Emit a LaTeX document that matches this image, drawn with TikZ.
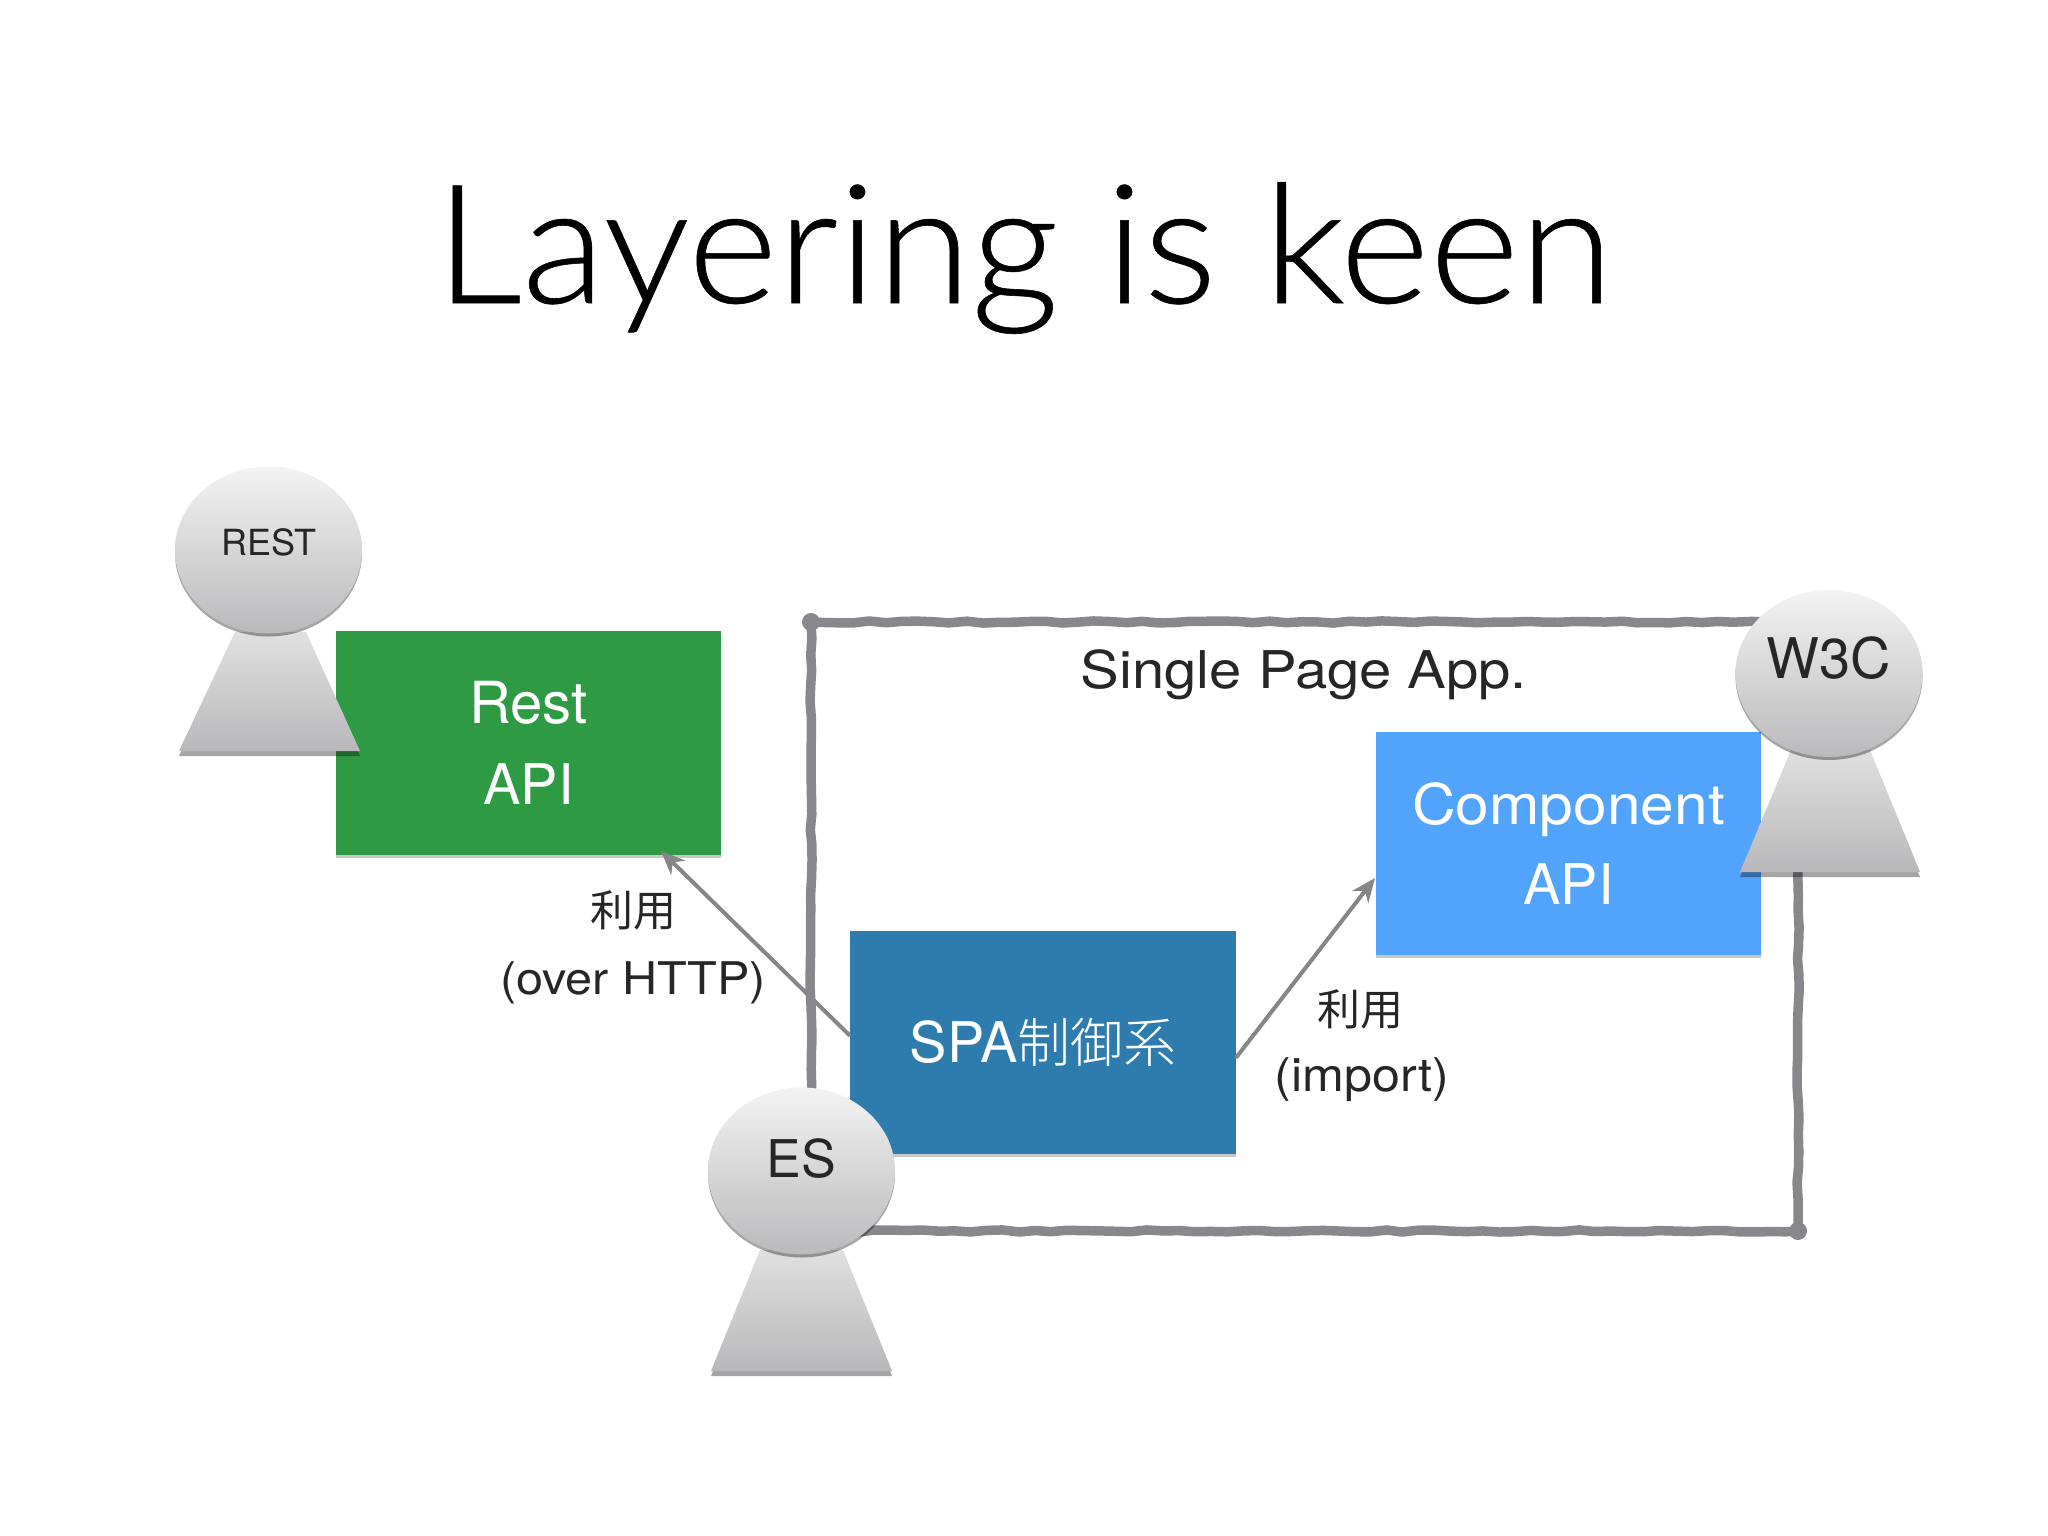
\documentclass[tikz,border=0pt]{standalone}
\usepackage{fontspec}
\setmainfont{TeX Gyre Heros}
\newfontfamily\titlefont{Lato}[UprightFont=* Light,FakeStretch=1.035,FakeBold=0.35]
\newfontfamily\widefont{TeX Gyre Heros}[FakeStretch=1.08]
\newfontfamily\widerfont{TeX Gyre Heros}[FakeStretch=1.115]
\newfontfamily\cjk{Noto Sans CJK JP}
\newfontfamily\cjklight{Noto Sans CJK JP}[UprightFont=* Light]
\usetikzlibrary{shapes.geometric,shadows,arrows.meta,decorations.pathmorphing}
\definecolor{framegray}{HTML}{88888C}
\definecolor{linkgray}{HTML}{85858A}
\definecolor{inkdark}{HTML}{262626}
\definecolor{restgreen}{HTML}{2F9A44}
\definecolor{spablue}{HTML}{2E7CAE}
\definecolor{compblue}{HTML}{52A3FB}
\definecolor{HeadTop}{HTML}{F3F3F3}
\definecolor{HeadBot}{HTML}{BABABC}
\definecolor{BodyTop}{HTML}{E0E0E0}
\definecolor{BodyBot}{HTML}{B8B8BA}
\newcommand{\fs}[2]{\fontsize{#1}{#2}\selectfont}
\newcommand{\liftby}[2]{\smash{\raisebox{#1}{#2}}}
\tikzset{
  apibox/.style={rectangle,inner sep=0pt,outer sep=0pt,text=white,align=center,
    font=\fs{56}{80.5},drop shadow={shadow xshift=0pt,shadow yshift=-3pt,fill=black,opacity=.22}},
  head/.style={ellipse,inner sep=0pt,outer sep=0pt,minimum width=187pt,minimum height=167pt,
    top color=HeadTop,bottom color=HeadBot,text=inkdark,
    drop shadow={shadow xshift=0pt,shadow yshift=-3pt,fill=black,opacity=.35}},
  figbody/.style={top color=BodyTop,bottom color=BodyBot,
    drop shadow={shadow xshift=0pt,shadow yshift=-5pt,fill=black,opacity=.35},draw=none},
  link/.style={draw=linkgray,line width=4pt,-{Stealth[length=24pt,width=20pt]}},
  note/.style={inner sep=0pt,outer sep=0pt,text=inkdark,anchor=base},
  spaframe/.style={rectangle,inner sep=0pt,outer sep=0pt,draw=framegray,line width=9.5pt,line join=round,
    decorate,decoration={random steps,segment length=16pt,amplitude=1.1pt}},
}
\begin{document}
\begin{tikzpicture}[x=1pt,y=-1pt]
\useasboundingbox (0,0) rectangle (2048,1536);
\fill[white] (0,0) rectangle (2048,1536);
\pgfmathsetseed{42}
% title
\node[note,text=black,font=\titlefont\fs{166}{166}] (title) at (1024,303) {Layering is keen};
% boxes
\node[apibox,fill=restgreen,minimum width=385pt,minimum height=224pt] (rest) at (528.5,743) {{\fs{58}{80.5}Rest}\\API};
\node[apibox,fill=spablue,minimum width=386pt,minimum height=223pt] (spa) at (1043,1042.75) {SPA{\cjklight\fs{53}{53}制御系}};
\node[apibox,fill=compblue,minimum width=385pt,minimum height=223pt] (comp) at (1568.5,843.5) {{\widefont Component}\\API};
% arrows
\draw[link] ([yshift=7pt]spa.west) -- ([xshift=132.5pt,yshift=4pt]rest.south);
\draw[link] ([yshift=-15pt]spa.east) -- ([xshift=-1pt,yshift=-34.5pt]comp.west);
% frame
\node[spaframe,minimum width=987pt,minimum height=609pt] (frame) at (1304.5,926.5) {};
\fill[framegray] (frame.north west) circle (9pt);
\fill[framegray] (frame.south east) circle (9pt);
% labels
\node[note,font=\widerfont\fs{52}{52}] (spatitle) at (1304,688) {Single Page App.};
\node[note,font=\cjk\fs{43}{43}] (use1) at (633,926) {利用};
\node[note,font=\widefont\fs{45}{45}] (http) at (633,994) {(over HTTP)};
\node[note,font=\cjk\fs{43}{43}] (use2) at (1360,1025) {利用};
\node[note,font=\widefont\fs{46.5}{46.5}] (imp) at (1362,1091) {(import)};
% REST
\path[figbody] (235,632) -- (306,632) -- (360,751) -- (179,751) -- cycle;
\node[head,font=\fs{36}{36}] (resthead) at (268.5,550) {\liftby{-5pt}{REST}};
% W3C
\path[figbody] (1791,750) -- (1870,750) -- (1920,872) -- (1740,872) -- cycle;
\node[head,font=\fs{56}{56}] (w3chead) at (1829,673.5) {\liftby{-4.5pt}{W3C}};
% ES
\path[figbody] (760,1250) -- (843,1250) -- (892,1371) -- (711,1371) -- cycle;
\node[head,font=\fs{52}{52}] (eshead) at (801.5,1171) {\liftby{-6pt}{ES}};
\end{tikzpicture}
\end{document}
